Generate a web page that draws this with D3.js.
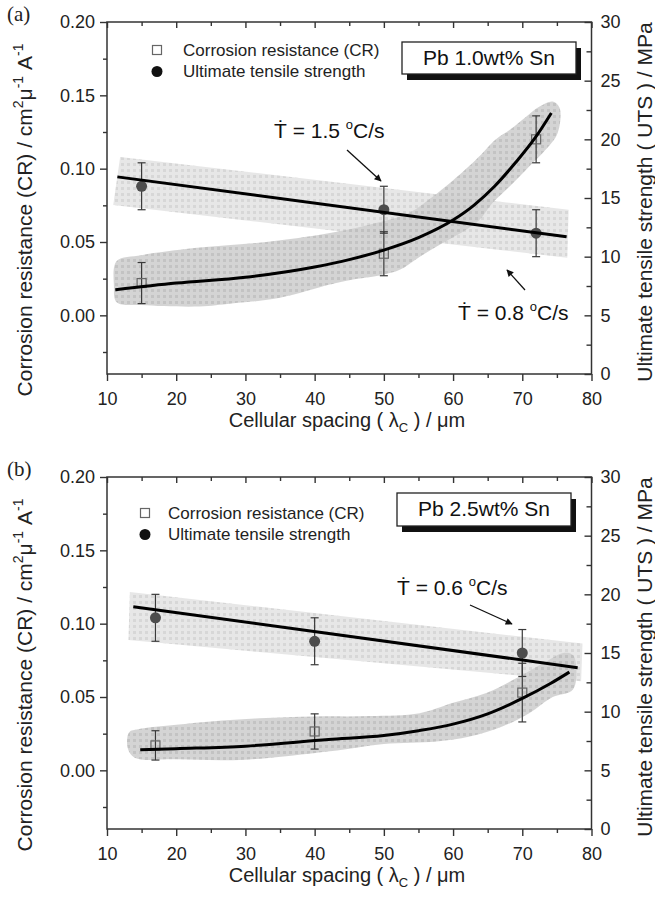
<!DOCTYPE html>
<html>
<head>
<meta charset="utf-8">
<script src="https://cdn.jsdelivr.net/npm/d3@7/dist/d3.min.js"></script>
<style>
  body { margin: 0; background: #fff; }
  svg { display: block; font-family: "Liberation Sans", Arial, sans-serif; }
</style>
</head>
<body>
<svg id="chart" width="655" height="903"></svg>
<script>
// axis ticks
var xTicks = [10, 20, 30, 40, 50, 60, 70, 80];
var xMinor = [15, 25, 35, 45, 55, 65, 75];
var crTicks = [0, 0.05, 0.10, 0.15, 0.20];
var crMinor = [-0.025, 0.025, 0.075, 0.125, 0.175];
var utsTicks = [0, 5, 10, 15, 20, 25, 30];
var utsMinor = [2.5, 7.5, 12.5, 17.5, 22.5, 27.5];

// (a) Pb 1.0wt% Sn
var spacingA = [15, 50, 72];
var crA = [0.022, 0.042, 0.120];
var crErrA = [0.014, 0.015, 0.016];
var utsA = [16, 14, 12];
var utsErrA = [2, 2, 2];
var crFitA = [[11.2, 0.0175], [20, 0.022], [30, 0.026], [40, 0.033], [45, 0.038], [50, 0.0445],
    [55, 0.053], [60, 0.065], [63, 0.075], [66, 0.088], [69, 0.104], [72, 0.122], [74.2, 0.138]];
var utsFitA = [[11.5, 16.8], [76.4, 11.7]];
var utsBandA = [[11.9, 18.5], [76.7, 14.0], [76.5, 9.9], [10.9, 14.4]];
var crBlobA = [[11.4, 0.037], [15, 0.041], [23, 0.046], [33, 0.050], [42, 0.056], [48, 0.062],
    [53.7, 0.070], [57.1, 0.081], [59.5, 0.090], [63.3, 0.106], [66.2, 0.120], [68.2, 0.1265],
    [70.6, 0.1356], [72.5, 0.1424], [74.4, 0.1458], [75.4, 0.1413], [75.1, 0.1242], [73.4, 0.113],
    [71.0, 0.1015], [68.2, 0.088], [65.7, 0.0766], [63.8, 0.065], [61.9, 0.0584], [58.5, 0.0493],
    [55.2, 0.040], [52.3, 0.031], [49.9, 0.0277], [45, 0.024], [42.2, 0.021], [35, 0.012],
    [28, 0.008], [23.4, 0.006], [15, 0.007], [11.4, 0.009], [11.0, 0.02]];

// (b) Pb 2.5wt% Sn
var spacingB = [17, 40, 70];
var crB = [0.017, 0.0265, 0.053];
var crErrB = [0.010, 0.012, 0.020];
var utsB = [18, 16, 15];
var utsErrB = [2, 2, 2];
var crFitB = [[14.8, 0.014], [20, 0.0148], [30, 0.0165], [42, 0.021], [50, 0.0237], [55, 0.027],
    [60, 0.0315], [65, 0.0385], [70, 0.049], [74, 0.059], [76.8, 0.067]];
var utsFitB = [[13.8, 18.95], [78, 13.75]];
var utsBandB = [[13.3, 20.2], [78.7, 15.8], [78.5, 12.6], [13.1, 16.1]];
var crBlobB = [[13.2, 0.026], [14.5, 0.028], [20, 0.031], [25, 0.0333], [32, 0.0355], [40, 0.0367],
    [48, 0.037], [55.2, 0.039], [60, 0.046], [64.8, 0.0527], [69.6, 0.064], [73.4, 0.074],
    [75.9, 0.080], [77.3, 0.0787], [77.8, 0.0707], [77.3, 0.055], [74.4, 0.050], [71.0, 0.039],
    [67.2, 0.030], [62.4, 0.023], [57.6, 0.0197], [50, 0.018], [42.2, 0.013], [30, 0.0073],
    [20, 0.0075], [14, 0.0086], [13, 0.015]];

var svg = d3.select('#chart');
var x = d3.scaleLinear().domain([10, 80]).range([107, 591.5]);

var defs = svg.append('defs');
function texture(id, base, dot) {
    var p = defs.append('pattern').attr('id', id)
        .attr('patternUnits', 'userSpaceOnUse').attr('width', 6).attr('height', 6);
    p.append('rect').attr('width', 6).attr('height', 6).attr('fill', base);
    p.append('rect').attr('x', 1).attr('y', 1).attr('width', 3).attr('height', 3).attr('fill', dot);
}
texture('utsTex', '#e7e7e7', '#d7d7d7');
texture('crTex', '#d0d0d0', '#bdbdbd');
defs.append('filter').attr('id', 'soft')
    .append('feGaussianBlur').attr('stdDeviation', 0.7);
defs.append('marker').attr('id', 'head')
    .attr('viewBox', '0 0 10 10').attr('refX', 9).attr('refY', 5)
    .attr('markerWidth', 10).attr('markerHeight', 7).attr('markerUnits', 'userSpaceOnUse')
    .attr('orient', 'auto')
    .append('path').attr('d', 'M0,0 L10,5 L0,10 z').attr('fill', '#111');

// Ṫ = v °C/s
function rateLabel(g, px, py, v) {
    var t = g.append('text').attr('x', px).attr('y', py)
        .attr('font-size', 21).attr('fill', '#111');
    t.append('tspan').text('\u1E6A = ' + v + ' ');
    t.append('tspan').attr('dy', -9).attr('font-size', 13).text('o');
    t.append('tspan').attr('dy', 9).text('C/s');
}

function arrow(g, p) {
    g.append('line').attr('x1', p[0]).attr('y1', p[1]).attr('x2', p[2]).attr('y2', p[3])
        .attr('stroke', '#111').attr('stroke-width', 1.3).attr('marker-end', 'url(#head)');
}

function drawPanel(cfg) {
    var top = cfg.top, bottom = top + 352;
    var yL = d3.scaleLinear().domain([-0.04, 0.20]).range([bottom, top]);
    var yR = d3.scaleLinear().domain([0, 30]).range([bottom, top]);
    var g = svg.append('g');

    // shaded trend bands
    var bands = g.append('g').attr('filter', 'url(#soft)');
    bands.append('path')
        .attr('d', d3.line().x(function (d) { return x(d[0]); }).y(function (d) { return yR(d[1]); })(cfg.utsBand) + 'Z')
        .attr('fill', 'url(#utsTex)');
    bands.append('path')
        .attr('d', d3.line().curve(d3.curveCatmullRomClosed)
            .x(function (d) { return x(d[0]); }).y(function (d) { return yL(d[1]); })(cfg.crBlob))
        .attr('fill', 'url(#crTex)').attr('opacity', 0.9);

    // axes
    function axis(gen, tx, ty, vals, size, fmt, pad) {
        var a = gen.tickValues(vals).tickSizeInner(size).tickSizeOuter(0)
            .tickFormat(fmt || '').tickPadding(pad || 3);
        var ag = g.append('g').attr('transform', 'translate(' + tx + ',' + ty + ')').call(a);
        ag.select('.domain').remove();
        ag.selectAll('line').attr('stroke', '#333').attr('stroke-width', 1.4);
        ag.selectAll('text').attr('font-size', 18).attr('fill', '#222')
            .attr('font-family', '"Liberation Sans", Arial, sans-serif');
        return ag;
    }
    axis(d3.axisBottom(x), 0, bottom, xTicks, 7, d3.format('d'), 11);
    axis(d3.axisBottom(x), 0, bottom, xMinor, 4);
    axis(d3.axisBottom(x), 0, top, xTicks, 6);
    axis(d3.axisBottom(x), 0, top, xMinor, 4);
    axis(d3.axisLeft(yL), 107, 0, crTicks, 7, d3.format('.2f'), 5);
    axis(d3.axisLeft(yL), 107, 0, crMinor, 4);
    axis(d3.axisRight(yR), 591.5, 0, utsTicks, -7, d3.format('d'), 9);
    axis(d3.axisRight(yR), 591.5, 0, utsMinor, -5);
    g.append('rect').attr('x', 107).attr('y', top).attr('width', 484.5).attr('height', 352)
        .attr('fill', 'none').attr('stroke', '#333').attr('stroke-width', 1.5);

    // error bars
    function errBars(xs, ys, es, sc) {
        xs.forEach(function (xv, i) {
            var cx = x(xv), y1 = sc(ys[i] + es[i]), y2 = sc(ys[i] - es[i]);
            var eg = g.append('g').attr('stroke', '#3a3a3a').attr('stroke-width', 1.2);
            eg.append('line').attr('x1', cx).attr('x2', cx).attr('y1', y1).attr('y2', y2);
            eg.append('line').attr('x1', cx - 4).attr('x2', cx + 4).attr('y1', y1).attr('y2', y1);
            eg.append('line').attr('x1', cx - 4).attr('x2', cx + 4).attr('y1', y2).attr('y2', y2);
        });
    }
    errBars(cfg.spacing, cfg.cr, cfg.crErr, yL);
    errBars(cfg.spacing, cfg.uts, cfg.utsErr, yR);

    g.selectAll('.sq').data(cfg.spacing).join('rect')
        .attr('x', function (d) { return x(d) - 4.5; })
        .attr('y', function (d, i) { return yL(cfg.cr[i]) - 4.5; })
        .attr('width', 9).attr('height', 9)
        .attr('fill', 'none').attr('stroke', '#666').attr('stroke-width', 1.2);
    g.selectAll('.dot').data(cfg.spacing).join('circle')
        .attr('cx', function (d) { return x(d); })
        .attr('cy', function (d, i) { return yR(cfg.uts[i]); })
        .attr('r', 5.5).attr('fill', '#4d4d4d');

    // fitted trends
    g.append('path')
        .attr('d', d3.line().curve(d3.curveMonotoneX)
            .x(function (d) { return x(d[0]); }).y(function (d) { return yL(d[1]); })(cfg.crFit))
        .attr('fill', 'none').attr('stroke', '#000').attr('stroke-width', 3);
    g.append('path')
        .attr('d', d3.line().x(function (d) { return x(d[0]); }).y(function (d) { return yR(d[1]); })(cfg.utsFit))
        .attr('fill', 'none').attr('stroke', '#000').attr('stroke-width', 3);

    // legend
    var lg = cfg.legend;
    g.append('rect').attr('x', lg[0] - 4.5).attr('y', top + lg[1] - 4.5).attr('width', 9).attr('height', 9)
        .attr('fill', '#fff').attr('stroke', '#666').attr('stroke-width', 1.2);
    g.append('circle').attr('cx', lg[0]).attr('cy', top + lg[1] + 21.5).attr('r', 5.5).attr('fill', '#111');
    g.append('text').attr('x', lg[2]).attr('y', top + lg[1] + 5.5).attr('font-size', 17)
        .attr('fill', '#222').text('Corrosion resistance (CR)');
    g.append('text').attr('x', lg[2]).attr('y', top + lg[1] + 26.5).attr('font-size', 17)
        .attr('fill', '#222').text('Ultimate tensile strength');

    // alloy box with drop shadow
    var b = cfg.box;
    g.append('rect').attr('x', b[0] + 5).attr('y', top + b[1] + 6).attr('width', b[2]).attr('height', b[3])
        .attr('fill', '#111');
    g.append('rect').attr('x', b[0]).attr('y', top + b[1]).attr('width', b[2]).attr('height', b[3])
        .attr('fill', '#fff').attr('stroke', '#222').attr('stroke-width', 1.3);
    g.append('text').attr('x', b[0] + b[2] / 2).attr('y', top + b[1] + 23).attr('text-anchor', 'middle')
        .attr('font-size', 21).attr('fill', '#111').text(cfg.alloy);

    cfg.rates.forEach(function (r) { rateLabel(g, r[0], r[1], r[2]); });
    cfg.arrows.forEach(function (a) { arrow(g, a); });

    // titles
    g.append('text').attr('x', 7).attr('y', top - 1).attr('font-size', 21)
        .attr('font-family', '"Liberation Serif", "Times New Roman", serif').attr('fill', '#222').text(cfg.tag);
    g.append('text').attr('x', 347).attr('y', bottom + 53).attr('text-anchor', 'middle')
        .attr('font-size', 20).attr('fill', '#222')
        .call(function (t) {
            t.append('tspan').text('Cellular spacing ( \u03BB');
            t.append('tspan').attr('dy', 5).attr('font-size', 13).text('C');
            t.append('tspan').attr('dy', -5).text(' ) / \u03BCm');
        });
    g.append('text').attr('transform', 'translate(32,' + (top + 198) + ') rotate(-90)')
        .attr('text-anchor', 'middle').attr('font-size', 21).attr('fill', '#222')
        .call(function (t) {
            t.append('tspan').text('Corrosion resistance (CR) / cm');
            t.append('tspan').attr('dy', -9).attr('font-size', 14).text('2');
            t.append('tspan').attr('dy', 9).text('\u03BC');
            t.append('tspan').attr('dy', -9).attr('font-size', 14).text('-1');
            t.append('tspan').attr('dy', 9).text(' A');
            t.append('tspan').attr('dy', -9).attr('font-size', 14).text('-1');
        });
    g.append('text').attr('transform', 'translate(652,' + (top + 180) + ') rotate(-90)')
        .attr('text-anchor', 'middle').attr('font-size', 21).attr('fill', '#222')
        .text('Ultimate tensile strength ( UTS ) /  MPa');
}

drawPanel({
    top: 22, tag: '(a)', alloy: 'Pb 1.0wt% Sn',
    spacing: spacingA, cr: crA, crErr: crErrA, uts: utsA, utsErr: utsErrA,
    crFit: crFitA, utsFit: utsFitA, utsBand: utsBandA, crBlob: crBlobA,
    legend: [157, 28, 183], box: [402, 20, 174, 32],
    rates: [[274, 138, '1.5'], [458, 320, '0.8']],
    arrows: [[347, 150, 381, 181], [525, 290, 507, 270]]
});
drawPanel({
    top: 477, tag: '(b)', alloy: 'Pb 2.5wt% Sn',
    spacing: spacingB, cr: crB, crErr: crErrB, uts: utsB, utsErr: utsErrB,
    crFit: crFitB, utsFit: utsFitB, utsBand: utsBandB, crBlob: crBlobB,
    legend: [145, 36, 168], box: [397, 16, 174, 33],
    rates: [[397, 595, '0.6']],
    arrows: [[470, 605, 512, 624]]
});
</script>
</body>
</html>
